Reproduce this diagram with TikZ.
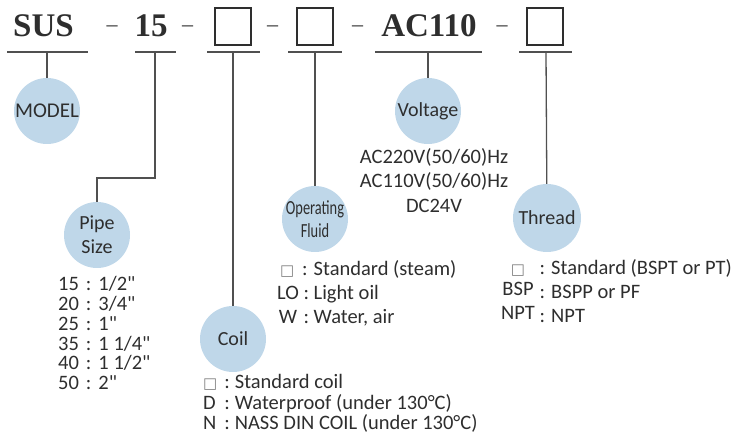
\documentclass[tikz,border=0pt]{standalone}
\usepackage{fontspec}
\usepackage{graphicx}
\setmainfont{Carlito}[Ligatures=TeXOff]
\newfontfamily\headfont{Liberation Serif}
\newfontfamily\symfont{DejaVu Sans}
\usepackage{tikz}
\usetikzlibrary{positioning}
\usepackage{xcolor}
\definecolor{bubble}{HTML}{BFD7E9}
\definecolor{ink}{HTML}{2E2E2E}
\definecolor{rule}{HTML}{505050}
\newcommand{\stdmark}{{\symfont\fontsize{15}{15}\selectfont\textcolor{gray}{□}}}
\newcommand{\narrow}[1]{\makebox[0pt]{\scalebox{0.72}[1]{#1}}}
\newcommand{\cl}{\hspace{7pt}:\hspace{7pt}}

\begin{document}
\begin{tikzpicture}[x=1pt, y=-1pt,
    head/.style={font=\headfont\bfseries\fontsize{33}{36}\selectfont, text=ink, inner sep=0, anchor=base},
    hyph/.style={font=\headfont\fontsize{22}{22}\selectfont, text=ink, inner sep=0, anchor=base},
    slot/.style={draw=ink, line width=1.4pt, minimum width=36, minimum height=37, inner sep=0},
    bub/.style={circle, fill=bubble, minimum size=66, inner sep=0, text=ink, font=\fontsize{20}{24}\selectfont, align=center},
    lst/.style={inner sep=0, text=ink, anchor=base west},
    uline/.style={draw=rule, line width=2pt},
    lead/.style={draw=rule, line width=1.3pt}
]
\useasboundingbox (0,0) rectangle (733,435);
% Code row
\node[head] (sus) at (43.5,37) {SUS};
\node[hyph] (h1) at (112,32) {–};
\node[head] (size) at (151,37) {15};
\node[hyph] (h2) at (187.5,32) {–};
\node[slot] (coilbox) at (233,26.5) {};
\node[hyph] (h3) at (272.5,32) {–};
\node[slot] (fluidbox) at (315,26.5) {};
\node[hyph] (h4) at (357.5,32) {–};
\node[head] (ac) at (429,37) {AC110};
\node[hyph] (h5) at (502,32) {–};
\node[slot] (threadbox) at (545,26.5) {};
% Underlines
\draw[uline] (7,52) -- (88,52);
\draw[uline] (135,52) -- (176,52);
\draw[uline] (207,52) -- (260,52);
\draw[uline] (288,52) -- (342,52);
\draw[uline] (375,52) -- (482,52);
\draw[uline] (519,52) -- (572,52);
\coordinate (u1) at (47,52);
\coordinate (u2) at (155,52);
\coordinate (u3) at (233,52);
\coordinate (u4) at (315,52);
\coordinate (u5) at (428,52);
\coordinate (u6) at (546,52);
\coordinate (bend) at (155,178);
% Bubbles
\node[bub, font=\fontsize{21}{24}\selectfont] (model) at (47,111) {MODEL};
\node[bub] (pipe) at (97,235) {Pipe\\Size};
\node[bub] (coil) at (233,339) {Coil};
\node[bub, font=\fontsize{20}{23}\selectfont] (fluid) at (315,219) {\narrow{Operating}\\\narrow{Fluid}};
\node[bub] (volt) at (428,111) {Voltage};
\node[bub, minimum size=68] (thread) at (547,218) {Thread};
% Leads
\draw[lead] (u1) -- (model);
\draw[lead] (u2) -- (bend) -| (pipe);
\draw[lead] (u3) -- (coil);
\draw[lead] (u4) -- (fluid);
\draw[lead] (u5) -- (volt);
\draw[lead] (u6) -- (thread);
% Option lists
\node[lst] (pipelist) at (58,291) {\fontsize{20.5}{18.6}\selectfont\begin{tabular}[t]{@{}l@{\cl}l@{}}15 & 1/2"\\ 20 & 3/4"\\ 25 & 1"\\ 35 & 1 1/4"\\ 40 & 1 1/2"\\ 50 & 2"\end{tabular}};
\node[lst] (coillist) at (203,388.5) {\fontsize{20.5}{19}\selectfont\begin{tabular}[t]{@{}l@{\hspace{7pt}:\hspace{5pt}}l@{}}\stdmark & Standard coil\\ D & Waterproof (under 130°C)\\ N & NASS DIN COIL (under 130°C)\end{tabular}};
\node[lst] (fluidlist) at (277,275.5) {\fontsize{20.5}{24}\selectfont\begin{tabular}[t]{@{}c@{ : }l@{}}\stdmark & Standard (steam)\\ LO & Light oil\\ W & Water, air\end{tabular}};
\node[lst, anchor=base] (voltlist) at (434,163.5) {\fontsize{20.5}{24.5}\selectfont\begin{tabular}[t]{@{}c@{}}AC220V(50/60)Hz\\ AC110V(50/60)Hz\\ DC24V\end{tabular}};
\node[lst] (threadlist) at (501,274.5) {\fontsize{20.5}{24}\selectfont\begin{tabular}[t]{@{}c@{ : }l@{}}\stdmark & Standard (BSPT or PT)\\ \raisebox{2.5pt}{BSP} & BSPP or PF\\ \raisebox{2.5pt}{NPT} & NPT\end{tabular}};
\end{tikzpicture}
\end{document}
